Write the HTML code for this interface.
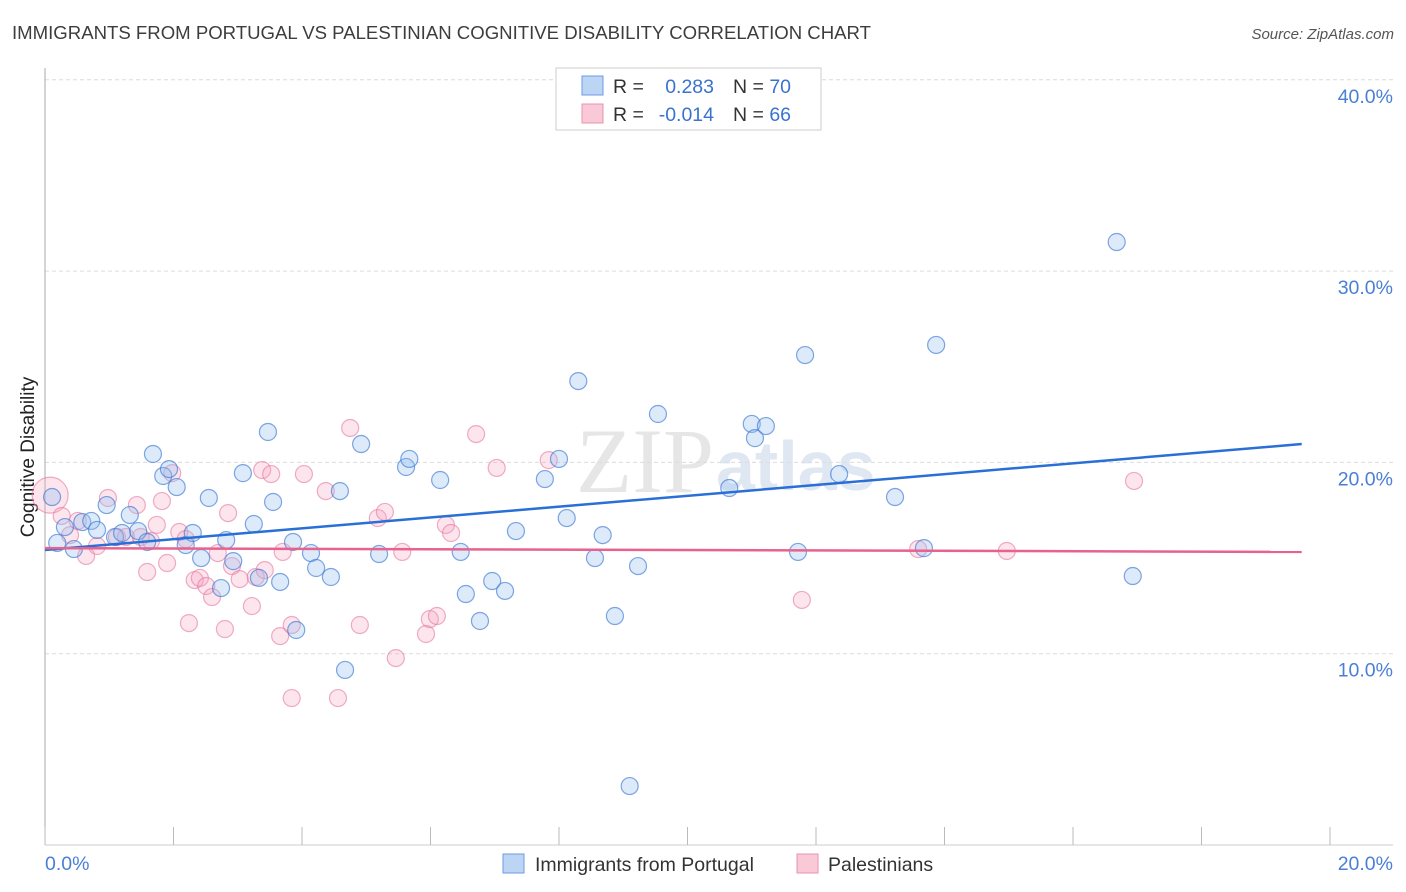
<!DOCTYPE html>
<html><head><meta charset="utf-8"><style>
body{margin:0;background:#fff;font-family:"Liberation Sans",sans-serif;}
#wrap{position:relative;width:1406px;height:892px;overflow:hidden;}
</style></head><body>
<div id="wrap">
<svg id="svg" width="1406" height="892" xmlns="http://www.w3.org/2000/svg">
<text x="12" y="39" font-size="18.6" fill="#3d3d3d" textLength="859">IMMIGRANTS FROM PORTUGAL VS PALESTINIAN COGNITIVE DISABILITY CORRELATION CHART</text>
<text x="1394" y="39" font-size="15" fill="#555" text-anchor="end" font-style="italic">Source: ZipAtlas.com</text>
<text x="34" y="457" font-size="19" fill="#222" text-anchor="middle" transform="rotate(-90 34 457)">Cognitive Disability</text>
<text x="714" y="492" font-size="92" fill="#e6e6e6" text-anchor="end" font-family="Liberation Serif,serif">ZIP</text>
<text x="716" y="490" font-size="70" fill="#dfe7f3" font-weight="bold">atlas</text>
<g id="grid"></g><g id="axes"></g><g id="pts"></g><g id="lines"></g>
<g>
<rect x="556" y="68" width="265" height="62" fill="#fff" stroke="#ccc"/>
<rect x="582" y="76" width="21" height="19" fill="#bcd5f5" stroke="#6b9be0"/>
<rect x="582" y="104" width="21" height="19" fill="#f9c9d8" stroke="#e893b0"/>
<text x="613" y="93" font-size="19.5" fill="#333">R =</text>
<text x="714" y="93" font-size="19.5" fill="#3a72d0" text-anchor="end">0.283</text>
<text x="733" y="93" font-size="19.5" fill="#333">N = <tspan fill="#3a72d0">70</tspan></text>
<text x="613" y="121" font-size="19.5" fill="#333">R =</text>
<text x="714" y="121" font-size="19.5" fill="#3a72d0" text-anchor="end">-0.014</text>
<text x="733" y="121" font-size="19.5" fill="#333">N = <tspan fill="#3a72d0">66</tspan></text>
</g>
<g>
<rect x="503" y="854" width="21" height="19" fill="#bcd5f5" stroke="#6b9be0"/>
<text x="535" y="871" font-size="19.5" fill="#333">Immigrants from Portugal</text>
<rect x="797" y="854" width="21" height="19" fill="#f9c9d8" stroke="#e893b0"/>
<text x="828" y="871" font-size="19.5" fill="#333">Palestinians</text>
</g>
</svg>
</div>
<script>
const yTicks=[10,20,30,40];
const yTickLabels=["10.0%","20.0%","30.0%","40.0%"];
const xTickLabels=["0.0%","20.0%"];
const blueX=[0.19,0.45,0.31,0.58,0.72,0.81,0.96,1.09,1.20,1.32,1.45,1.59,1.68,1.84,1.93,2.05,2.19,2.30,2.43,2.55,2.74,2.82,2.93,3.08,3.25,3.33,3.47,3.55,3.66,3.86,3.91,4.14,4.22,4.45,4.59,4.67,4.92,5.20,5.62,5.67,6.15,6.47,6.55,6.77,6.96,7.16,7.33,7.78,8.00,8.12,8.30,8.56,8.68,8.87,9.10,9.23,9.54,10.65,11.00,11.05,11.22,11.72,11.83,12.36,13.23,13.68,13.87,16.68,16.93,0.11];
const blueY=[15.79,15.47,16.62,16.88,16.94,16.47,17.77,16.10,16.31,17.25,16.41,15.84,20.44,19.29,19.65,18.71,15.68,16.31,15.00,18.14,13.43,15.94,14.84,19.44,16.78,13.96,21.59,17.93,13.75,15.84,11.24,15.26,14.48,14.01,18.50,9.15,20.96,15.21,19.76,20.18,19.08,15.32,13.12,11.71,13.80,13.28,16.41,19.13,20.18,17.09,24.25,15.00,16.20,11.97,3.08,14.58,22.53,18.66,22.01,21.27,21.90,15.32,25.61,19.39,18.19,15.52,26.14,31.52,14.06,18.19];
const pinkX=[0.08,0.26,0.39,0.51,0.64,0.81,0.98,1.12,1.26,1.43,1.49,1.59,1.65,1.74,1.82,1.90,1.98,2.09,2.19,2.24,2.33,2.41,2.51,2.60,2.69,2.80,2.85,2.91,3.03,3.22,3.28,3.38,3.42,3.52,3.66,3.70,3.84,3.84,4.03,4.37,4.56,4.75,4.90,5.18,5.29,5.46,5.56,5.93,5.99,6.10,6.24,6.32,6.71,7.03,7.84,11.78,13.59,14.97,16.95];
const pinkY=[18.29,17.20,16.20,16.94,15.11,15.63,18.14,16.10,16.10,17.77,16.10,14.27,15.89,16.73,17.98,14.74,19.44,16.36,15.99,11.60,13.85,13.96,13.54,12.96,15.26,11.29,17.35,14.58,13.90,12.49,14.01,19.60,14.37,19.39,10.92,15.32,11.50,7.68,19.39,18.50,7.68,21.80,11.50,17.09,17.41,9.77,15.32,11.03,11.81,11.97,16.73,16.31,21.48,19.71,20.12,12.81,15.47,15.37,19.03];
const blueLine=[[0,15.42],[19.56,20.96]];
const pinkLine=[[0,15.52],[19.56,15.32]];
const X0=45,X1=1330,Y0=845,YS=19.13;
function sx(v){return X0+(v/20)*(X1-X0);}
function sy(v){return Y0-v*YS;}
const NS="http://www.w3.org/2000/svg";
function mk(tag,attrs,parent){const e=document.createElementNS(NS,tag);for(const k in attrs)e.setAttribute(k,attrs[k]);parent.appendChild(e);return e;}
const grid=document.getElementById('grid'),axes=document.getElementById('axes'),pts=document.getElementById('pts'),lines=document.getElementById('lines');
yTicks.forEach((t,i)=>{
 const g=mk('line',{x1:X0,x2:1393,y1:sy(t),y2:sy(t),stroke:'#dcdcdc','stroke-dasharray':'4,3'},grid);
 
 
 const l=mk('text',{x:1393,y:sy(t)+23,'font-size':19.5,fill:'#4a7fd4','text-anchor':'end'},axes);
 l.textContent=yTickLabels[i];
 
 
});
const ya=mk('line',{x1:X0,x2:X0,y1:68,y2:Y0,stroke:'#aaa'},axes);


const xa=mk('line',{x1:X0,x2:1393,y1:Y0,y2:Y0,stroke:'#ccc'},axes);


for(let i=0;i<=10;i++){
 const t=mk('line',{x1:sx(i*2),x2:sx(i*2),y1:827,y2:Y0,stroke:'#bbb'},axes);
 
 
}
[[0,'start',45],[1,'end',1393]].forEach(([i,a,x])=>{
 const l=mk('text',{x:x,y:870,'font-size':19.5,fill:'#4a7fd4','text-anchor':a},axes);
 l.textContent=xTickLabels[i];
 
 
});
pinkX.forEach((v,i)=>{
 const c=mk('circle',{cx:sx(v),cy:sy(pinkY[i]),r:i===0?18:8.5,fill:'rgba(245,160,190,0.28)',stroke:'rgba(230,120,160,0.6)','stroke-width':1.2},pts);
 
 
});
blueX.forEach((v,i)=>{
 const c=mk('circle',{cx:sx(v),cy:sy(blueY[i]),r:8.5,fill:'rgba(150,190,240,0.33)',stroke:'rgba(60,120,210,0.65)','stroke-width':1.2},pts);
 
 
});
const bl=mk('line',{x1:sx(blueLine[0][0]),y1:sy(blueLine[0][1]),x2:sx(blueLine[1][0]),y2:sy(blueLine[1][1]),stroke:'#2a6fd6','stroke-width':2.5},lines);


const pl=mk('line',{x1:sx(pinkLine[0][0]),y1:sy(pinkLine[0][1]),x2:sx(pinkLine[1][0]),y2:sy(pinkLine[1][1]),stroke:'#e8628f','stroke-width':2.5},lines);


</script>
</body></html>
